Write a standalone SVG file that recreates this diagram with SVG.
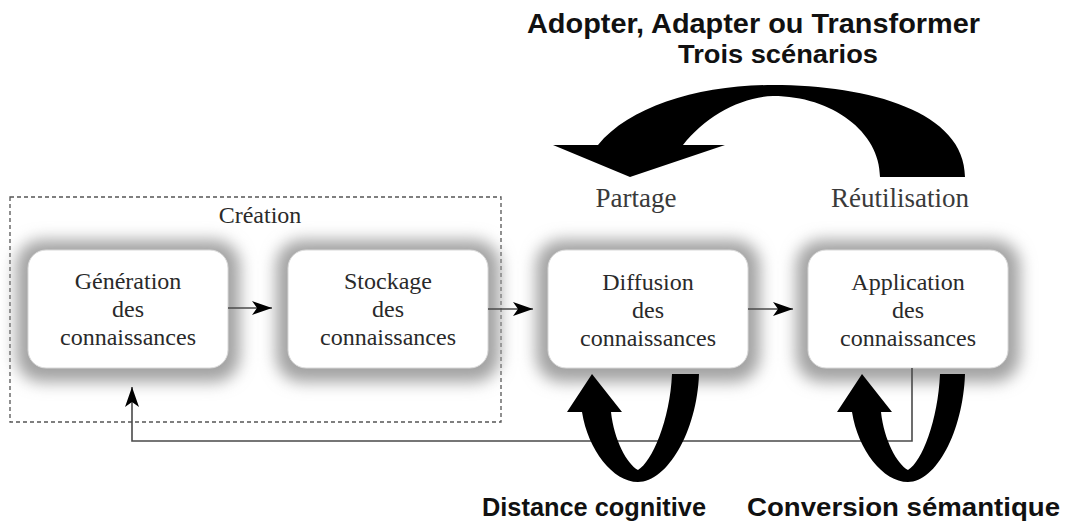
<svg xmlns="http://www.w3.org/2000/svg" width="1066" height="522" viewBox="0 0 1066 522">
<style>
.box{fill:#ffffff;stroke:#d8d8d8;stroke-width:1}
.glow{fill:#a2a2a2}
.t{font-family:"Liberation Serif","Times New Roman",serif;font-size:24px;fill:#2a2a2a;text-anchor:middle}
.lbl{font-family:"Liberation Serif","Times New Roman",serif;font-size:27px;fill:#3a3a3a;text-anchor:middle}
.b{font-family:"Liberation Sans",Arial,sans-serif;font-weight:bold;fill:#111}
.ln{fill:none;stroke:#4a4a4a;stroke-width:1.6}
.big{fill:#000}
</style>
<defs>
<filter id="blur" x="-30%" y="-40%" width="160%" height="180%">
<feGaussianBlur stdDeviation="8"/>
</filter>
<marker id="ah" markerUnits="userSpaceOnUse" markerWidth="22" markerHeight="14" refX="20" refY="7" orient="auto">
<path d="M0,0 L20,7 L0,14 L5,7 Z" fill="#000"/>
</marker>
</defs>

<rect x="10" y="197" width="491" height="225" fill="none" stroke="#555" stroke-width="1.3" stroke-dasharray="4,3"/>
<text class="t" x="260" y="223">Création</text>
<text class="lbl" x="636" y="207">Partage</text>
<text class="lbl" x="900" y="207">Réutilisation</text>

<g id="gen">
<rect class="glow" x="16" y="240" width="224" height="142" rx="26" filter="url(#blur)"/>
<rect class="box" x="28" y="250" width="200" height="118" rx="18"/>
<text class="t" x="128" y="289">Génération</text>
<text class="t" x="128" y="317">des</text>
<text class="t" x="128" y="345">connaissances</text>
</g>
<g id="sto">
<rect class="glow" x="276" y="240" width="224" height="142" rx="26" filter="url(#blur)"/>
<rect class="box" x="288" y="250" width="200" height="118" rx="18"/>
<text class="t" x="388" y="289">Stockage</text>
<text class="t" x="388" y="317">des</text>
<text class="t" x="388" y="345">connaissances</text>
</g>
<g id="dif">
<rect class="glow" x="536" y="240" width="224" height="142" rx="26" filter="url(#blur)"/>
<rect class="box" x="548" y="250" width="200" height="118" rx="18"/>
<text class="t" x="648" y="290">Diffusion</text>
<text class="t" x="648" y="318">des</text>
<text class="t" x="648" y="346">connaissances</text>
</g>
<g id="app">
<rect class="glow" x="796" y="240" width="224" height="142" rx="26" filter="url(#blur)"/>
<rect class="box" x="808" y="250" width="200" height="118" rx="18"/>
<text class="t" x="908" y="290">Application</text>
<text class="t" x="908" y="318">des</text>
<text class="t" x="908" y="346">connaissances</text>
</g>

<g id="connectors">
<line class="ln" x1="228" y1="308" x2="272" y2="308" marker-end="url(#ah)"/>
<line class="ln" x1="488" y1="309" x2="533" y2="309" marker-end="url(#ah)"/>
<line class="ln" x1="748" y1="309" x2="793" y2="309" marker-end="url(#ah)"/>
<polyline class="ln" points="912,368 912,441 132,441 132,387" marker-end="url(#ah)"/>
<path class="big" d="M553,145 L598,145 C630,106 700,85 773,85 C870,85 965,112 965,177 L880,177 C880,132 832,96 773,96 C740,97 705,117 683,145 L725,145 L630,177 Z"/>
<path id="loop1" class="big" d="M592,374 L622,412 L611,412 C614,440 627,464 638,470 C652,462 670,420 672,374 L699,374 C697,432 667,482 638,482 C613,482 588,450 582,412 L567,412 Z"/>
<path class="big" transform="translate(270,0)" d="M592,374 L622,412 L611,412 C614,440 627,464 638,470 C652,462 668,420 670,374 L695,374 C693,432 666,482 638,482 C613,482 588,450 582,412 L567,412 Z"/>
</g>

<text class="b" x="527" y="33" font-size="28" textLength="453" lengthAdjust="spacingAndGlyphs">Adopter, Adapter ou Transformer</text>
<text class="b" x="678" y="63" font-size="25" textLength="200" lengthAdjust="spacingAndGlyphs">Trois scénarios</text>
<text class="b" x="482" y="516" font-size="25" textLength="224" lengthAdjust="spacingAndGlyphs">Distance cognitive</text>
<text class="b" x="747" y="516" font-size="25" textLength="313" lengthAdjust="spacingAndGlyphs">Conversion sémantique</text>
</svg>
